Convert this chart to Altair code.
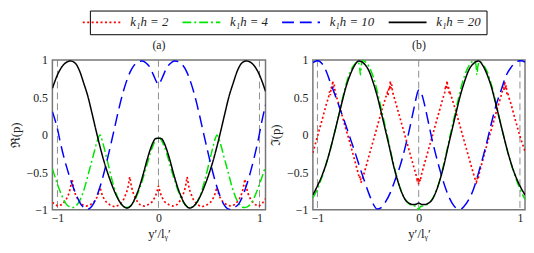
import altair as alt
import pandas as pd

series = ["k₁h = 2", "k₁h = 4", "k₁h = 10", "k₁h = 20"]
colors = ["#ff0000", "#00e600", "#0000ff", "#000000"]
dashes = [[2, 2.5], [9, 3, 2, 3], [12, 6], [1, 0]]

vlines = [-1, 0, 1]
yticks = [-1, -0.5, 0, 0.5, 1]
xticks = [-1, 0, 1]

# ---------------- panel (a): Re(p) ----------------
a_red_x = [-1.05, -1.02, -0.996, -0.956, -0.916, -0.886, -0.871, -0.856, -0.841, -0.826, -0.796, -0.756, -0.716,
           -0.678, -0.638, -0.608, -0.593, -0.578, -0.563, -0.548, -0.518, -0.478, -0.431, -0.384, -0.344, -0.314,
           -0.299, -0.284, -0.269, -0.254, -0.224, -0.184, -0.142, -0.1, -0.06, -0.03, -0.015, 0.0,
           0.015, 0.03, 0.06, 0.1, 0.142, 0.184, 0.224, 0.254, 0.269, 0.284, 0.299, 0.314, 0.344, 0.384, 0.431,
           0.478, 0.518, 0.548, 0.563, 0.578, 0.593, 0.608, 0.638, 0.678, 0.716, 0.756, 0.796, 0.826, 0.841, 0.856,
           0.871, 0.886, 0.916, 0.956, 0.996, 1.03, 1.06]
a_red_y = [-0.90, -0.93, -0.95, -0.93, -0.87, -0.78, -0.70, -0.59, -0.70, -0.78, -0.87, -0.93, -0.95,
           -0.935, -0.895, -0.83, -0.775, -0.70, -0.775, -0.83, -0.895, -0.935, -0.96, -0.93, -0.86, -0.76,
           -0.68, -0.56, -0.68, -0.76, -0.86, -0.93, -0.95, -0.93, -0.89, -0.82, -0.76, -0.68,
           -0.76, -0.82, -0.89, -0.93, -0.95, -0.93, -0.86, -0.76, -0.68, -0.56, -0.68, -0.76, -0.86, -0.93, -0.96,
           -0.935, -0.895, -0.83, -0.775, -0.70, -0.775, -0.83, -0.895, -0.935, -0.95, -0.93, -0.87, -0.78, -0.70, -0.59,
           -0.70, -0.78, -0.87, -0.93, -0.95, -0.91, -0.85]

a_green_x = [-1.05, -1.0, -0.96, -0.92, -0.88, -0.85, -0.81, -0.77, -0.73, -0.69, -0.65, -0.61, -0.59, -0.578,
             -0.565, -0.54, -0.5, -0.46, -0.42, -0.38, -0.34, -0.31, -0.27, -0.22, -0.17, -0.12, -0.08, -0.04,
             -0.015, 0.0, 0.015, 0.04, 0.08, 0.12, 0.17, 0.22, 0.27, 0.31, 0.34, 0.38, 0.42, 0.46, 0.5, 0.54,
             0.565, 0.578, 0.59, 0.61, 0.65, 0.69, 0.73, 0.77, 0.81, 0.85, 0.88, 0.92, 0.96, 1.0, 1.06]
a_green_y = [-0.45, -0.66, -0.8, -0.91, -0.96, -0.97, -0.94, -0.85, -0.7, -0.5, -0.3, -0.1, -0.02, 0.0,
             -0.04, -0.16, -0.38, -0.6, -0.78, -0.9, -0.96, -0.97, -0.94, -0.83, -0.65, -0.43, -0.24, -0.1,
             -0.04, -0.03, -0.04, -0.1, -0.24, -0.43, -0.65, -0.83, -0.94, -0.97, -0.96, -0.9, -0.78, -0.6, -0.38, -0.16,
             -0.04, 0.0, -0.02, -0.1, -0.3, -0.5, -0.7, -0.85, -0.94, -0.97, -0.96, -0.91, -0.8, -0.66, -0.42]

a_blue_x = [-1.05, -1.0, -0.97, -0.93, -0.9, -0.86, -0.82, -0.78, -0.74, -0.71, -0.68, -0.64, -0.6, -0.55, -0.5,
            -0.45, -0.4, -0.36, -0.32, -0.28, -0.24, -0.2, -0.16, -0.12, -0.08, -0.05, -0.02, 0.0,
            0.02, 0.05, 0.08, 0.12, 0.16, 0.2, 0.24, 0.28, 0.32, 0.36, 0.4, 0.45, 0.5, 0.55, 0.6, 0.64, 0.68,
            0.72, 0.75, 0.79, 0.83, 0.87, 0.91, 0.95, 0.99, 1.03, 1.06]
a_blue_y = [0.31, 0.08, -0.11, -0.33, -0.47, -0.64, -0.78, -0.9, -0.97, -0.995, -0.98, -0.91, -0.78, -0.56, -0.29,
            0.0, 0.3, 0.52, 0.7, 0.84, 0.93, 0.975, 0.985, 0.955, 0.89, 0.8, 0.71, 0.67,
            0.71, 0.8, 0.89, 0.955, 0.985, 0.975, 0.93, 0.84, 0.7, 0.52, 0.3, 0.0, -0.29, -0.56, -0.78, -0.91, -0.98,
            -0.995, -0.97, -0.93, -0.83, -0.68, -0.5, -0.29, -0.05, 0.22, 0.4]

a_black_x = [-1.05, -1.0, -0.96, -0.92, -0.87, -0.82, -0.78, -0.74, -0.7, -0.66, -0.62, -0.58, -0.54, -0.5, -0.46,
             -0.42, -0.38, -0.34, -0.31, -0.27, -0.23, -0.19, -0.15, -0.11, -0.08, -0.05, -0.03, 0.0,
             0.03, 0.05, 0.08, 0.11, 0.15, 0.19, 0.23, 0.27, 0.31, 0.34, 0.38, 0.42, 0.46, 0.5, 0.54, 0.58, 0.62,
             0.66, 0.7, 0.74, 0.78, 0.82, 0.87, 0.92, 0.96, 1.0, 1.06]
a_black_y = [0.62, 0.8, 0.9, 0.96, 0.985, 0.95, 0.85, 0.69, 0.52, 0.3, 0.07, -0.15, -0.35, -0.52, -0.67,
             -0.8, -0.9, -0.96, -0.975, -0.94, -0.84, -0.7, -0.52, -0.32, -0.19, -0.09, -0.05, -0.045,
             -0.05, -0.09, -0.19, -0.32, -0.52, -0.7, -0.84, -0.94, -0.975, -0.96, -0.9, -0.8, -0.67, -0.52, -0.35, -0.15, 0.07,
             0.3, 0.52, 0.69, 0.85, 0.95, 0.985, 0.96, 0.9, 0.8, 0.58]

# ---------------- panel (b): Im(p) ----------------
b_red_x = [-1.045, -1.0, -0.95, -0.91, -0.89, -0.88, -0.872, -0.864, -0.856, -0.849, -0.842, -0.834, -0.825, -0.81,
           -0.78, -0.73, -0.68, -0.63, -0.6, -0.585, -0.577, -0.57, -0.562, -0.55, -0.52, -0.47, -0.42, -0.37,
           -0.33, -0.31, -0.302, -0.294, -0.287, -0.28, -0.273, -0.266, -0.258, -0.24, -0.2, -0.15, -0.1, -0.05,
           -0.025, -0.015, -0.007, 0.0, 0.007, 0.015, 0.025, 0.05, 0.1, 0.15, 0.2, 0.24, 0.258, 0.266, 0.273, 0.28,
           0.287, 0.294, 0.302, 0.31, 0.33, 0.37, 0.42, 0.47, 0.52, 0.55, 0.562, 0.57, 0.577, 0.585, 0.6, 0.63,
           0.68, 0.73, 0.78, 0.81, 0.825, 0.834, 0.842, 0.849, 0.856, 0.864, 0.872, 0.88, 0.89, 0.91, 0.95, 1.0, 1.05]
b_red_y = [-0.24, -0.02, 0.22, 0.42, 0.5, 0.58, 0.53, 0.64, 0.6, 0.72, 0.63, 0.67, 0.57, 0.5,
           0.37, 0.13, -0.1, -0.35, -0.5, -0.58, -0.55, -0.64, -0.6, -0.56, -0.42, -0.18, 0.06, 0.3,
           0.48, 0.56, 0.52, 0.64, 0.6, 0.72, 0.62, 0.67, 0.57, 0.49, 0.3, 0.06, -0.18, -0.42,
           -0.54, -0.6, -0.57, -0.66, -0.58, -0.62, -0.54, -0.42, -0.18, 0.06, 0.3, 0.49, 0.57, 0.66, 0.61, 0.72,
           0.62, 0.65, 0.54, 0.56, 0.48, 0.3, 0.06, -0.18, -0.42, -0.56, -0.61, -0.63, -0.57, -0.6, -0.5, -0.35,
           -0.1, 0.13, 0.37, 0.5, 0.58, 0.64, 0.6, 0.71, 0.61, 0.66, 0.54, 0.56, 0.5, 0.42, 0.22, -0.02, -0.22]

b_green_x = [-1.045, -1.0, -0.96, -0.92, -0.88, -0.84, -0.8, -0.76, -0.72, -0.68, -0.64, -0.6, -0.583, -0.575,
             -0.567, -0.55, -0.51, -0.47, -0.43, -0.39, -0.35, -0.31, -0.27, -0.23, -0.19, -0.15, -0.11, -0.07,
             -0.035, -0.015, -0.006, 0.0, 0.006, 0.015, 0.035, 0.07, 0.11, 0.15, 0.19, 0.23, 0.27, 0.31, 0.35,
             0.39, 0.43, 0.47, 0.51, 0.55, 0.567, 0.575, 0.583, 0.6, 0.64, 0.68, 0.72, 0.76, 0.8, 0.84, 0.88,
             0.92, 0.96, 1.0, 1.05]
b_green_y = [-0.84, -0.72, -0.58, -0.42, -0.23, -0.02, 0.2, 0.44, 0.66, 0.83, 0.93, 0.975, 0.9, 0.8,
             0.92, 0.99, 0.95, 0.85, 0.69, 0.47, 0.23, -0.01, -0.26, -0.49, -0.68, -0.82, -0.9, -0.94,
             -0.95, -0.96, -0.99, -1.0, -0.99, -0.96, -0.95, -0.94, -0.9, -0.82, -0.68, -0.49, -0.26, -0.01, 0.23,
             0.47, 0.69, 0.85, 0.95, 0.99, 0.92, 0.8, 0.9, 0.975, 0.93, 0.83, 0.66, 0.44, 0.2, -0.02, -0.23,
             -0.42, -0.58, -0.72, -0.86]

b_blue_x = [-1.045, -1.0, -0.96, -0.92, -0.87, -0.82, -0.77, -0.72, -0.67, -0.62, -0.575, -0.53, -0.49, -0.45,
            -0.41, -0.37, -0.33, -0.28, -0.23, -0.185, -0.14, -0.1, -0.065, -0.035, -0.015, 0.0,
            0.02, 0.04, 0.07, 0.1, 0.13, 0.17, 0.21, 0.25, 0.29, 0.33, 0.37, 0.41, 0.45, 0.5, 0.54, 0.59,
            0.636, 0.68, 0.718, 0.77, 0.815, 0.86, 0.912, 0.96, 1.01, 1.05]
b_blue_y = [0.965, 0.99, 0.96, 0.87, 0.69, 0.51, 0.32, 0.13, -0.07, -0.27, -0.46, -0.64, -0.79, -0.92,
            -0.99, -0.97, -0.9, -0.77, -0.59, -0.42, -0.2, 0.02, 0.24, 0.43, 0.55, 0.6,
            0.58, 0.5, 0.33, 0.14, -0.05, -0.27, -0.47, -0.65, -0.8, -0.91, -0.975, -0.99, -0.95, -0.85, -0.73, -0.51,
            -0.29, -0.06, 0.155, 0.42, 0.6, 0.78, 0.9, 0.97, 0.99, 0.97]

b_black_x = [-1.045, -1.0, -0.96, -0.92, -0.88, -0.84, -0.8, -0.76, -0.72, -0.68, -0.64, -0.59, -0.54, -0.49,
             -0.45, -0.41, -0.37, -0.33, -0.29, -0.25, -0.21, -0.17, -0.13, -0.09, -0.05, -0.025, 0.0,
             0.025, 0.05, 0.09, 0.13, 0.17, 0.21, 0.25, 0.29, 0.33, 0.37, 0.41, 0.45, 0.49, 0.54, 0.59,
             0.64, 0.68, 0.72, 0.76, 0.8, 0.84, 0.88, 0.92, 0.96, 1.0, 1.05]
b_black_y = [-0.8, -0.68, -0.56, -0.41, -0.23, -0.02, 0.2, 0.42, 0.63, 0.79, 0.91, 0.985, 0.95, 0.85,
             0.7, 0.52, 0.3, 0.07, -0.16, -0.4, -0.6, -0.76, -0.87, -0.915, -0.93, -0.925, -0.91,
             -0.925, -0.93, -0.915, -0.87, -0.76, -0.6, -0.4, -0.16, 0.07, 0.3, 0.52, 0.7, 0.85, 0.95, 0.985,
             0.91, 0.79, 0.63, 0.42, 0.2, -0.02, -0.23, -0.41, -0.56, -0.68, -0.8]


def frame(parts):
    rows = []
    for name, xs, ys in parts:
        for xv, yv in zip(xs, ys):
            rows.append({"x": xv, "y": yv, "series": name})
    return pd.DataFrame(rows)


df_a = frame([(series[0], a_red_x, a_red_y), (series[1], a_green_x, a_green_y),
              (series[2], a_blue_x, a_blue_y), (series[3], a_black_x, a_black_y)])
df_b = frame([(series[0], b_red_x, b_red_y), (series[1], b_green_x, b_green_y),
              (series[2], b_blue_x, b_blue_y), (series[3], b_black_x, b_black_y)])

FONT = "Liberation Serif"

legend = alt.Legend(
    title=None, orient="none", legendX=38, legendY=-50, direction="horizontal", columns=4,
    symbolType="M-3.2,0H3.2", symbolSize=144, symbolStrokeWidth=1.6,
    labelFont=FONT, labelFontSize=13, labelFontStyle="italic", labelColor="#222",
    strokeColor="black", fillColor="white", padding=5, columnPadding=10, labelOffset=22,
)


def panel(df, title, ytitle, xdomain, width):
    xenc = alt.X("x:Q", scale=alt.Scale(domain=xdomain, nice=False, zero=False),
                 axis=alt.Axis(values=xticks, format="~g", title="y′/lᵧ′", labelPadding=3, titlePadding=4))
    yenc = alt.Y("y:Q", scale=alt.Scale(domain=[-1, 1], nice=False, zero=False),
                 axis=alt.Axis(values=yticks, format="~g", title=ytitle, labelPadding=5, titlePadding=4))
    color = alt.Color("series:N", scale=alt.Scale(domain=series, range=colors), legend=legend)
    dash = alt.StrokeDash("series:N", scale=alt.Scale(domain=series, range=dashes), legend=legend)

    rules = alt.Chart(pd.DataFrame({"x": vlines})).mark_rule(
        color="#8c8c8c", strokeDash=[7, 4], strokeWidth=1).encode(x=xenc)
    red = alt.Chart(df[df["series"] == series[0]]).mark_line(
        clip=True, strokeWidth=1.7, interpolate="linear").encode(x=xenc, y=yenc, color=color, strokeDash=dash)
    others = alt.Chart(df[df["series"] != series[0]]).mark_line(
        clip=True, strokeWidth=1.5, interpolate="monotone").encode(x=xenc, y=yenc, color=color, strokeDash=dash)
    return alt.layer(rules, red, others).properties(
        width=width, height=152,
        title=alt.TitleParams(title, font=FONT, fontSize=12, fontWeight="normal", offset=2, color="#222"),
    )


pa = panel(df_a, "(a)", "ℜ(p)", [-1.05, 1.06], 216)
pb = panel(df_b, "(b)", "ℑ(p)", [-1.045, 1.05], 215)

chart = alt.hconcat(pa, pb, spacing=48, bounds="flush").properties(padding=0).configure_view(
    stroke="#777", strokeWidth=1.5
).configure_axis(
    grid=False, domain=False, ticks=False,
    labelFont=FONT, labelFontSize=12, labelColor="#222",
    titleFont=FONT, titleFontSize=13, titleFontWeight="normal", titleColor="#222",
)

chart.save("out.html", embed_options={"renderer": "svg", "actions": False})
